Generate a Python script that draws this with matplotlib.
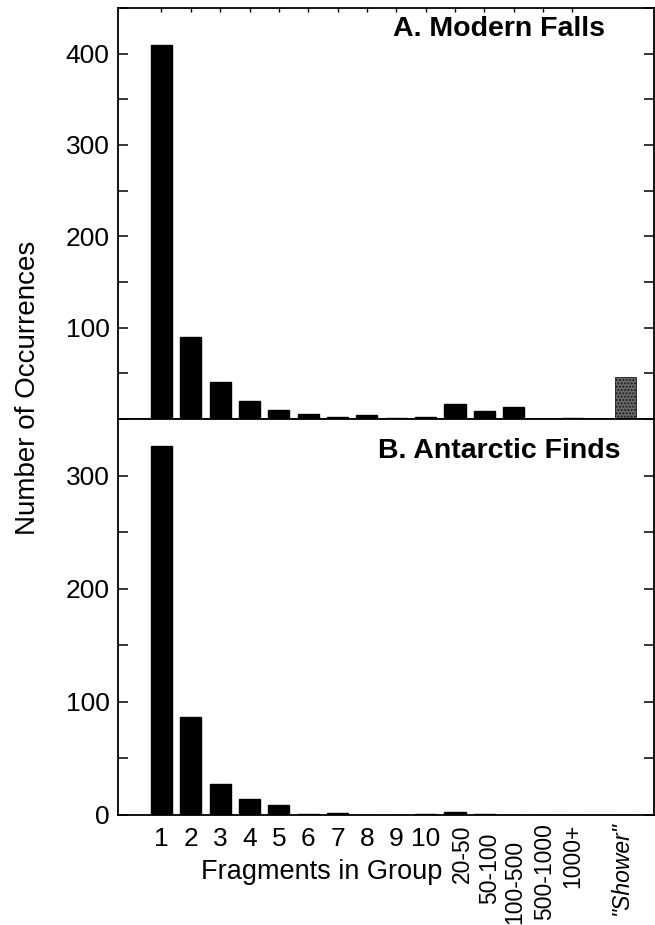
import matplotlib
matplotlib.use('Agg')
import matplotlib.pyplot as plt
import matplotlib.transforms as mtransforms
import numpy as np
from matplotlib import ticker

# data
categories = ['1', '2', '3', '4', '5', '6', '7', '8', '9', '10',
              '20-50', '50-100', '100-500', '500-1000', '1000+', '"Shower"']
modern_falls = [410, 90, 41, 20, 10, 6, 2, 4, 1, 2, 16, 9, 13, 0, 1, 46]
antarctic_finds = [326, 87, 27, 14, 9, 1, 2, 0, 0, 1, 3, 1, 0, 0, 0, 0]

plt.rcParams['font.family'] = ['Liberation Sans', 'DejaVu Sans']
plt.rcParams['font.size'] = 19

W, H = 655, 925
fig = plt.figure(figsize=(W / 100, H / 100), dpi=100)


def px_box(left, top, right, bottom):
    return [left / W, 1 - bottom / H, (right - left) / W, (bottom - top) / H]


ax1 = fig.add_axes(px_box(118, 8, 654, 419))
ax2 = fig.add_axes(px_box(118, 419, 654, 815))

x = np.arange(1, len(categories) + 1, dtype=float)
x[-1] += 0.8  # shower bar sits a bit apart
bar_w = 0.72

ax1.bar(x[:-1], modern_falls[:-1], width=bar_w, color='black', edgecolor='black')
ax1.bar(x[-1:], modern_falls[-1:], width=bar_w, facecolor='0.42', edgecolor='0.1',
        hatch='.....', linewidth=0.6)
ax2.bar(x, antarctic_finds, width=bar_w, color='black', edgecolor='black')

for ax in (ax1, ax2):
    ax.set_xlim(-0.48, 17.78)
    for sp in ax.spines.values():
        sp.set_linewidth(1.3)
    ax.tick_params(axis='y', which='both', direction='in', left=True, right=True,
                   length=7, width=1.1, pad=6)

# top panel
ax1.set_ylim(0, 450)
ax1.set_yticks(np.arange(0, 451, 50))
ax1.yaxis.set_major_formatter(ticker.FuncFormatter(
    lambda v, _: f'{int(v)}' if v % 100 == 0 and v > 0 else ''))
ax1.set_xticks(x[:-1])
ax1.tick_params(axis='x', direction='in', top=True, bottom=False,
                labelbottom=False, length=3, width=1)
ax1.text(0.909, 0.949, 'A. Modern Falls', transform=ax1.transAxes,
         ha='right', va='center', fontsize=20.5, fontweight='bold')

# bottom panel
ax2.set_ylim(0, 350)
ax2.set_yticks(np.arange(0, 351, 50))
ax2.yaxis.set_major_formatter(ticker.FuncFormatter(
    lambda v, _: f'{int(v)}' if v % 100 == 0 else ''))
ax2.set_xticks(x)
ax2.set_xticklabels(categories)
ax2.tick_params(axis='x', length=0, pad=9)
ax2.text(0.937, 0.919, 'B. Antarctic Finds', transform=ax2.transAxes,
         ha='right', va='center', fontsize=20.5, fontweight='bold')

# rotated group labels, slightly staggered as in the print
offsets = {'20-50': (7, -3), '50-100': (5, 5), '100-500': (1, 12),
           '500-1000': (2, -4), '1000+': (0, -4), '"Shower"': (-4, -6)}
for lab in ax2.get_xticklabels():
    t = lab.get_text()
    if t in offsets:
        lab.set_rotation(90)
        lab.set_va('top')
        lab.set_fontsize(16.5)
        dx, dy = offsets[t]
        lab.set_transform(lab.get_transform() + mtransforms.ScaledTranslation(
            dx / 100, -dy / 100, fig.dpi_scale_trans))
        if t == '"Shower"':
            lab.set_fontstyle('italic')

fig.text(322 / W, 1 - 872 / H, 'Fragments in Group', ha='center', va='center',
         fontsize=19.5)
fig.text(28 / W, 1 - 388 / H, 'Number of Occurrences', rotation=90,
         ha='center', va='center', fontsize=20)

fig.savefig('out.png', dpi=100)
